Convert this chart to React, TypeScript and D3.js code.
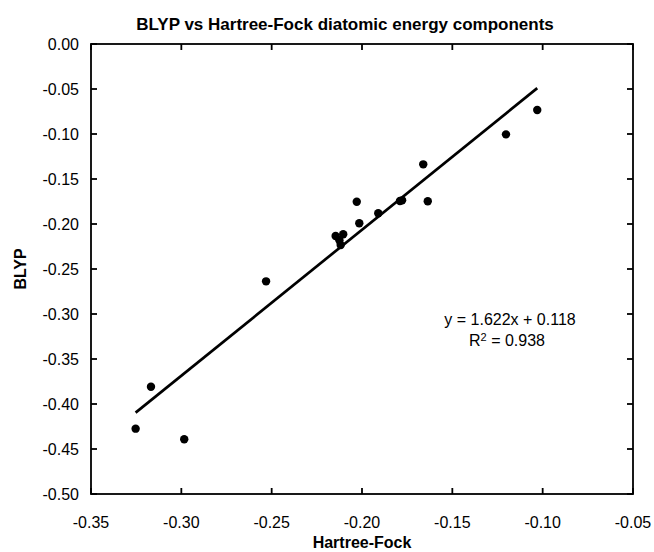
import React from "react";
import * as d3 from "d3";

const hartreeFock = [-0.3253, -0.3168, -0.2984, -0.2531, -0.2146, -0.2104, -0.2118, -0.2125, -0.2029, -0.2015, -0.1910, -0.1790, -0.1778, -0.1661, -0.1636, -0.1203, -0.1030];
const blyp = [-0.4274, -0.3808, -0.4392, -0.2637, -0.2133, -0.2114, -0.2233, -0.2180, -0.1752, -0.1992, -0.1881, -0.1745, -0.1737, -0.1337, -0.1748, -0.1004, -0.0733];
const xTicks = [-0.35, -0.30, -0.25, -0.20, -0.15, -0.10, -0.05];
const yTicks = [0.0, -0.05, -0.10, -0.15, -0.20, -0.25, -0.30, -0.35, -0.40, -0.45, -0.50];
const fitSlope = 1.622;
const fitIntercept = 0.118;
const fitR2 = 0.938;

const W = 654;
const H = 552;
const M = { left: 91, right: 21, top: 44, bottom: 58 };
const FONT = "'Liberation Sans', Arial, sans-serif";

const locale = d3.formatLocale({ decimal: ".", thousands: ",", grouping: [3], currency: ["", ""], minus: "-" });
const fmt = locale.format(".2f");

export default function App() {
  const x = d3.scaleLinear().domain([-0.35, -0.05]).range([M.left, W - M.right]);
  const y = d3.scaleLinear().domain([-0.5, 0]).range([H - M.bottom, M.top]);
  const xmin = d3.min(hartreeFock) as number;
  const xmax = d3.max(hartreeFock) as number;
  const line = d3.line<number>().x((d) => x(d)).y((d) => y(fitSlope * d + fitIntercept));
  const tl = 6;
  const [x0, x1] = x.range();
  const [y0, y1] = y.range();
  return (
    <svg width={W} height={H} style={{ position: "absolute", left: 0, top: 0, background: "#fff" }} fontFamily={FONT}>
      <rect x={0} y={0} width={W} height={H} fill="#fff" />
      <text x={345} y={30} textAnchor="middle" fontSize={17} fontWeight="bold">
        BLYP vs Hartree-Fock diatomic energy components
      </text>
      <rect x={x0} y={y1} width={x1 - x0} height={y0 - y1} fill="none" stroke="#000" strokeWidth={1.8} />
      {xTicks.map((t) => (
        <g key={"x" + t}>
          <line x1={x(t)} x2={x(t)} y1={y0} y2={y0 - tl} stroke="#000" strokeWidth={1.8} />
          <line x1={x(t)} x2={x(t)} y1={y1} y2={y1 + tl} stroke="#000" strokeWidth={1.8} />
          <text x={x(t)} y={528} textAnchor="middle" fontSize={16}>
            {fmt(t)}
          </text>
        </g>
      ))}
      {yTicks.map((t) => (
        <g key={"y" + t}>
          <line x1={x0} x2={x0 + tl} y1={y(t)} y2={y(t)} stroke="#000" strokeWidth={1.8} />
          <line x1={x1} x2={x1 - tl} y1={y(t)} y2={y(t)} stroke="#000" strokeWidth={1.8} />
          <text x={79} y={y(t) + 5.5} textAnchor="end" fontSize={16}>
            {t === 0 ? "0.00" : fmt(t)}
          </text>
        </g>
      ))}
      <path d={line([xmin, xmax]) || ""} stroke="#000" strokeWidth={2.7} fill="none" />
      {hartreeFock.map((v, i) => (
        <circle key={i} cx={x(v)} cy={y(blyp[i])} r={4.2} fill="#000" />
      ))}
      <text x={510} y={325} textAnchor="middle" fontSize={16}>
        {`y = ${fitSlope}x + ${fitIntercept}`}
      </text>
      <text x={507} y={346} textAnchor="middle" fontSize={16}>
        R<tspan dy={-5} fontSize={11}>2</tspan>
        <tspan dy={5}>{` = ${fitR2}`}</tspan>
      </text>
      <text x={(x0 + x1) / 2} y={548} textAnchor="middle" fontSize={16} fontWeight="bold">
        Hartree-Fock
      </text>
      <text transform={`translate(26, ${(y0 + y1) / 2}) rotate(-90)`} textAnchor="middle" fontSize={16} fontWeight="bold">
        BLYP
      </text>
    </svg>
  );
}
